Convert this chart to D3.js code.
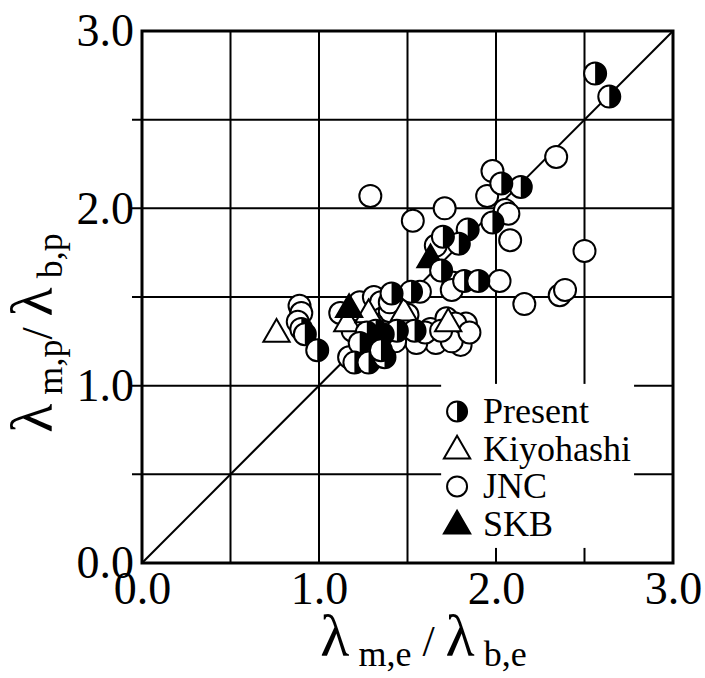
<!DOCTYPE html>
<html>
<head>
<meta charset="utf-8">
<script src="https://cdn.jsdelivr.net/npm/d3@7"></script>
<style>
  body { margin: 0; background: #fff; }
</style>
</head>
<body>
<svg width="705" height="678"></svg>
<script>
  // data: [λm,e/λb,e, λm,p/λb,p]
  const present = [
    [2.56, 2.76], [2.64, 2.63], [2.14, 2.12], [2.03, 2.14], [1.98, 1.92],
    [1.84, 1.88], [1.79, 1.80], [1.70, 1.84], [1.69, 1.65], [1.82, 1.59],
    [1.90, 1.59], [1.52, 1.53], [1.41, 1.52], [1.54, 1.31], [1.44, 1.31],
    [1.36, 1.29], [1.32, 1.31], [1.27, 1.30], [1.23, 1.24], [1.20, 1.13],
    [1.28, 1.13], [1.37, 1.16], [1.35, 1.20], [0.90, 1.32], [0.92, 1.29],
    [0.99, 1.20]
  ];
  const kiyohashi = [[0.76, 1.29], [1.16, 1.35], [1.28, 1.40], [1.48, 1.41], [1.73, 1.35]];
  const skb = [[1.17, 1.43], [1.63, 1.71]];
  const jnc = [
    [2.34, 2.29], [1.98, 2.21], [1.95, 2.07], [2.05, 1.99], [2.07, 1.97],
    [2.08, 1.82], [2.50, 1.76], [2.02, 1.59], [2.16, 1.46], [2.36, 1.51],
    [2.39, 1.54], [1.29, 2.07], [1.53, 1.93], [1.71, 2.00], [1.66, 1.79],
    [1.76, 1.58], [1.75, 1.54], [1.57, 1.53], [0.89, 1.45], [0.90, 1.41],
    [0.88, 1.36], [1.12, 1.41], [1.23, 1.47], [1.31, 1.50], [1.35, 1.47],
    [1.36, 1.38], [1.19, 1.31], [1.17, 1.16], [1.50, 1.40], [1.63, 1.32],
    [1.66, 1.24], [1.74, 1.35], [1.83, 1.35], [1.78, 1.28], [1.55, 1.24],
    [1.72, 1.38], [1.77, 1.35], [1.80, 1.23], [1.75, 1.25], [1.47, 1.33],
    [1.40, 1.42], [1.43, 1.25], [1.60, 1.30], [1.69, 1.31], [1.85, 1.30],
    [1.30, 1.35], [1.45, 1.49], [1.40, 1.47]
  ];
  const tickLabels = [0, 1, 2, 3];
  const gridValues = [0.5, 1, 1.5, 2, 2.5];
  const legendItems = ["Present", "Kiyohashi", "JNC", "SKB"];

  const serif = "'Liberation Serif', 'DejaVu Serif', serif";

  const svg = d3.select("svg"),
        margin = {top: 31, right: 32, bottom: 115, left: 142},
        width = +svg.attr("width"),
        height = +svg.attr("height");

  const x = d3.scaleLinear().domain([0, 3]).range([margin.left, width - margin.right]);
  const y = d3.scaleLinear().domain([0, 3]).range([height - margin.bottom, margin.top]);

  const r = 11;
  const tri = d3.symbol().type(d3.symbolTriangle).size(300);
  const halfArc = d3.arc().innerRadius(0).outerRadius(r).startAngle(0).endAngle(Math.PI);

  // grid
  svg.append("g").selectAll("line.v").data(gridValues).enter().append("line")
    .attr("x1", d => x(d)).attr("x2", d => x(d))
    .attr("y1", y(0)).attr("y2", y(3))
    .attr("stroke", "#000").attr("stroke-width", 2);
  svg.append("g").selectAll("line.h").data(gridValues).enter().append("line")
    .attr("x1", x(0) - 10).attr("x2", x(3))
    .attr("y1", d => y(d)).attr("y2", d => y(d))
    .attr("stroke", "#000").attr("stroke-width", 2);

  // 1:1 line
  svg.append("line")
    .attr("x1", x(0)).attr("y1", y(0)).attr("x2", x(3)).attr("y2", y(3))
    .attr("stroke", "#000").attr("stroke-width", 2);

  // legend background hides grid
  svg.append("rect")
    .attr("x", x(1.69)).attr("y", y(1.01))
    .attr("width", x(2.78) - x(1.69)).attr("height", y(0.085) - y(1.01))
    .attr("fill", "#fff");

  // points
  svg.append("g").selectAll("circle").data(jnc).enter().append("circle")
    .attr("cx", d => x(d[0])).attr("cy", d => y(d[1])).attr("r", r)
    .attr("fill", "#fff").attr("stroke", "#000").attr("stroke-width", 2);

  svg.append("g").selectAll("path").data(kiyohashi).enter().append("path")
    .attr("d", tri)
    .attr("transform", d => `translate(${x(d[0])},${y(d[1])})`)
    .attr("fill", "#fff").attr("stroke", "#000").attr("stroke-width", 2);

  svg.append("g").selectAll("path").data(skb).enter().append("path")
    .attr("d", tri)
    .attr("transform", d => `translate(${x(d[0])},${y(d[1])})`)
    .attr("fill", "#000").attr("stroke", "#000").attr("stroke-width", 2);

  const pg = svg.append("g").selectAll("g").data(present).enter().append("g")
    .attr("transform", d => `translate(${x(d[0])},${y(d[1])})`);
  pg.append("circle").attr("r", r)
    .attr("fill", "#fff").attr("stroke", "#000").attr("stroke-width", 2);
  pg.append("path").attr("d", halfArc).attr("fill", "#000");

  // frame
  svg.append("rect")
    .attr("x", x(0)).attr("y", y(3))
    .attr("width", x(3) - x(0)).attr("height", y(0) - y(3))
    .attr("fill", "none").attr("stroke", "#000").attr("stroke-width", 3);

  // axes labels
  const fmt = d3.format(".1f");
  const xAxis = svg.append("g")
    .attr("transform", `translate(0,${y(0)})`)
    .call(d3.axisBottom(x).tickValues(tickLabels).tickFormat(fmt).tickSize(0).tickPadding(8));
  const yAxis = svg.append("g")
    .attr("transform", `translate(${x(0)},0)`)
    .call(d3.axisLeft(y).tickValues(tickLabels).tickFormat(fmt).tickSize(0).tickPadding(8));
  [xAxis, yAxis].forEach(a => {
    a.select(".domain").remove();
    a.selectAll("text").style("font-family", serif).style("font-size", "46px").attr("fill", "#000");
  });

  // legend
  const lg = svg.append("g").selectAll("g").data(legendItems).enter().append("g")
    .attr("transform", (d, i) => `translate(${x(1.78)},${y(0.99) + 24 + i * 37.5})`);
  lg.each(function(d) {
    const g = d3.select(this);
    if (d === "Present") {
      g.append("circle").attr("r", 10).attr("fill", "#fff").attr("stroke", "#000").attr("stroke-width", 2);
      g.append("path").attr("d", d3.arc().innerRadius(0).outerRadius(10).startAngle(0).endAngle(Math.PI)).attr("fill", "#000");
    } else if (d === "JNC") {
      g.append("circle").attr("r", 10).attr("fill", "#fff").attr("stroke", "#000").attr("stroke-width", 2);
    } else {
      g.append("path").attr("d", tri).attr("transform", "translate(0,2)")
        .attr("fill", d === "SKB" ? "#000" : "#fff").attr("stroke", "#000").attr("stroke-width", 2);
    }
  });
  lg.append("text").attr("x", 26).attr("y", 12)
    .style("font-family", serif).style("font-size", "36px").text(d => d);

  // axis titles
  const xt = svg.append("text")
    .style("font-family", serif)
    .attr("x", (x(0) + x(3)) / 2 + 16).attr("y", 656)
    .attr("text-anchor", "middle");
  xt.append("tspan").style("font-size", "60px").text("λ");
  xt.append("tspan").style("font-size", "36px").attr("dy", 10).text(" m,e");
  xt.append("tspan").style("font-size", "44px").attr("dy", -10).text(" / ");
  xt.append("tspan").style("font-size", "60px").text("λ");
  xt.append("tspan").style("font-size", "36px").attr("dy", 10).text(" b,e");

  const yt = svg.append("text")
    .style("font-family", serif)
    .attr("transform", `translate(52,${(y(0) + y(3)) / 2 + 36}) rotate(-90)`)
    .attr("text-anchor", "middle");
  yt.append("tspan").style("font-size", "60px").text("λ");
  yt.append("tspan").style("font-size", "36px").attr("dy", 10).text(" m,p");
  yt.append("tspan").style("font-size", "44px").attr("dy", -10).text("/ ");
  yt.append("tspan").style("font-size", "60px").text("λ");
  yt.append("tspan").style("font-size", "36px").attr("dy", 10).text(" b,p");
</script>
</body>
</html>
